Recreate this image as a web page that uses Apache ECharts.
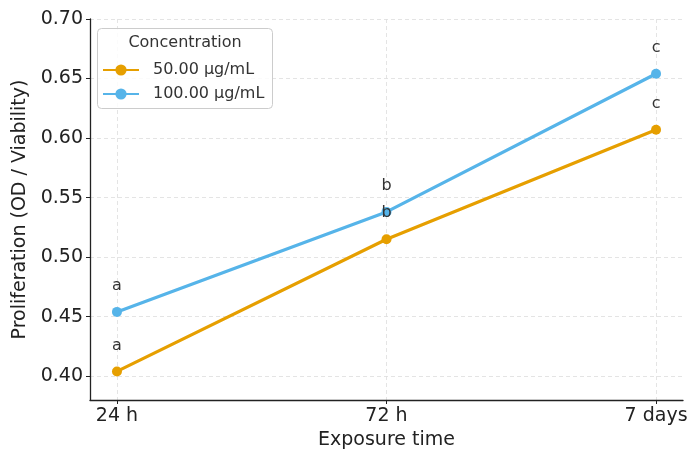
<!DOCTYPE html>
<html>
<head>
<meta charset="utf-8">
<script src="https://cdn.jsdelivr.net/npm/echarts@6/dist/echarts.min.js"></script>
<style>
  html, body { margin: 0; padding: 0; background: #fff; }
  #chart { width: 689px; height: 450px; }
</style>
</head>
<body>
<div id="chart"></div>
<script>
var timeLabels = ["24 h", "72 h", "7 days"];
var seriesNames = ["50.00 µg/mL", "100.00 µg/mL"];
var values50 = [0.404, 0.515, 0.607];
var values100 = [0.454, 0.538, 0.654];
var letters50 = ["a", "b", "c"];
var letters100 = ["a", "b", "c"];
var yTicks = [0.40, 0.45, 0.50, 0.55, 0.60, 0.65, 0.70];

var font = "DejaVu Sans";
var colors = ["#E69F00", "#56B4E9"];

function toPoints(vals, letters) {
  return vals.map(function (v, i) {
    return { value: [i, v], letter: letters[i] };
  });
}

function makeSeries(name, vals, letters, color) {
  return {
    name: name,
    type: "line",
    data: toPoints(vals, letters),
    symbol: "circle",
    symbolSize: 10,
    itemStyle: { color: color },
    lineStyle: { color: color, width: 3.2 },
    label: {
      show: true,
      position: "top",
      distance: 13,
      fontFamily: font,
      fontSize: 16,
      color: "#333",
      formatter: function (p) { return p.data.letter; }
    },
    emphasis: { disabled: true },
    z: 3
  };
}

var chart = echarts.init(document.getElementById("chart"), null, { renderer: "canvas" });
chart.setOption({
  animation: false,
  backgroundColor: "#fff",
  textStyle: { fontFamily: font },
  grid: { left: 90, right: 6, top: 19, bottom: 50, containLabel: false, outerBoundsMode: "none" },
  xAxis: {
    type: "value",
    min: -0.1,
    max: 2.1,
    interval: 1,
    name: "Exposure time",
    nameLocation: "middle",
    nameGap: 30,
    nameTextStyle: { fontFamily: font, fontSize: 19, color: "#222" },
    axisLine: { show: true, onZero: false, lineStyle: { color: "#222", width: 1.3 } },
    axisTick: { show: true, length: 4, inside: false, lineStyle: { color: "#222" },
      customValues: [0, 1, 2] },
    axisLabel: {
      fontFamily: font, fontSize: 19, color: "#222", margin: 7,
      customValues: [0, 1, 2],
      formatter: function (v) { return timeLabels[Math.round(v)]; }
    },
    splitLine: { show: true, lineStyle: { color: "#ddd", type: [4, 3], width: 0.8 } }
  },
  yAxis: {
    type: "value",
    min: 0.38,
    max: 0.70,
    name: "Proliferation (OD / Viability)",
    nameLocation: "middle",
    nameGap: 56,
    nameTextStyle: { fontFamily: font, fontSize: 19, color: "#222" },
    axisLine: { show: true, onZero: false, lineStyle: { color: "#222", width: 1.3 } },
    axisTick: { show: true, length: 4, lineStyle: { color: "#222" }, customValues: yTicks },
    axisLabel: {
      fontFamily: font, fontSize: 19, color: "#222", margin: 7,
      customValues: yTicks,
      formatter: function (v) { return v.toFixed(2); }
    },
    splitLine: { show: true, lineStyle: { color: "#ddd", type: [4, 3], width: 0.8 } }
  },
  graphic: [
    {
      type: "rect",
      shape: { x: 97.5, y: 28.5, width: 175, height: 80, r: 4 },
      style: { fill: "rgba(255,255,255,0.85)", stroke: "#ccc", lineWidth: 1 },
      z: 10
    },
    {
      type: "text",
      x: 185,
      y: 43,
      style: {
        text: "Concentration",
        font: "16px DejaVu Sans",
        fill: "#333",
        align: "center",
        verticalAlign: "middle"
      },
      z: 11
    }
  ],
  legend: {
    orient: "vertical",
    left: 97,
    top: 57,
    itemWidth: 36,
    itemHeight: 14,
    itemGap: 8,
    z: 12,
    textStyle: { fontFamily: font, fontSize: 16, color: "#333", padding: [0, 0, 0, 9] },
    data: seriesNames
  },
  series: [
    makeSeries(seriesNames[0], values50, letters50, colors[0]),
    makeSeries(seriesNames[1], values100, letters100, colors[1])
  ]
});
</script>
</body>
</html>
